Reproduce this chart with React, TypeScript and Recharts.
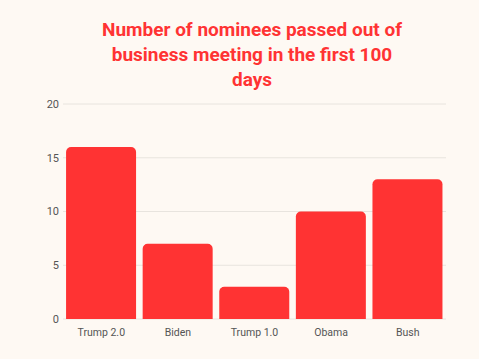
import React from 'react';
import { BarChart, Bar, XAxis, YAxis, CartesianGrid } from 'recharts';

const presidents = ['Trump 2.0', 'Biden', 'Trump 1.0', 'Obama', 'Bush'];
const nominees = [16, 7, 3, 10, 13];
const yTicks = [0, 5, 10, 15, 20];

const data = presidents.map((name, i) => ({ name, value: nominees[i] }));

export default function App() {
  return (
    <div
      style={{
        position: 'absolute',
        left: 0,
        top: 0,
        width: 479,
        height: 359,
        background: '#fef9f3',
        fontFamily: 'Roboto, sans-serif',
      }}
    >
      <div
        style={{
          position: 'absolute',
          top: 17,
          left: 102,
          width: 300,
          textAlign: 'center',
          color: '#ff3333',
          fontWeight: 700,
          fontSize: 19,
          lineHeight: '25px',
        }}
      >
        Number of nominees passed out of business meeting in the first 100 days
      </div>
      <BarChart
        width={479}
        height={359}
        data={data}
        margin={{ top: 104, right: 33, left: 0, bottom: 10 }}
        barCategoryGap="4%"
      >
        <CartesianGrid vertical={false} stroke="#e8e4de" />
        <XAxis
          dataKey="name"
          axisLine={false}
          tickLine={false}
          tickSize={0}
          tickMargin={10}
          tick={{ fontSize: 10.5, fill: '#555' }}
          height={30}
        />
        <YAxis
          domain={[0, 20]}
          ticks={yTicks}
          axisLine={false}
          tickLine={false}
          tickSize={0}
          tickMargin={4}
          width={63}
          tick={{ fontSize: 11, fill: '#555' }}
        />
        <Bar dataKey="value" fill="#ff3333" radius={[5, 5, 0, 0]} isAnimationActive={false} />
      </BarChart>
    </div>
  );
}
